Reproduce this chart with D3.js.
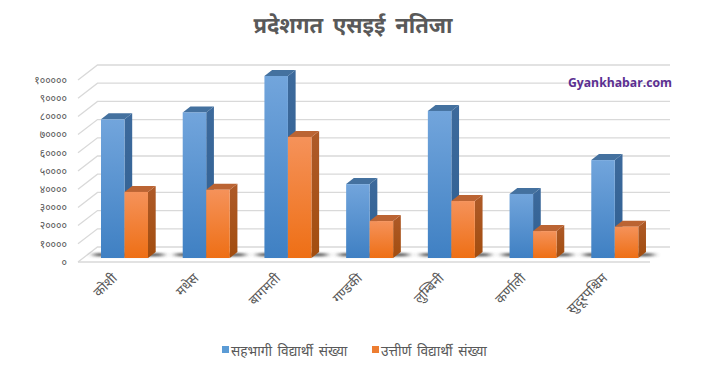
<!DOCTYPE html>
<html>
<head>
<meta charset="utf-8">
<script src="https://cdn.jsdelivr.net/npm/d3@7"></script>
<style>
  html, body { margin: 0; padding: 0; background: #fff; }
  text { font-family: "Noto Sans Devanagari", "Noto Sans", sans-serif; }
</style>
</head>
<body>
<div id="chart"></div>
<script>
// Data
const provinces = ["कोशी", "मधेस", "बागमती", "गण्डकी", "लुम्बिनी", "कर्णाली", "सुदूरपश्चिम"];
const seriesNames = ["सहभागी विद्यार्थी संख्या", "उत्तीर्ण विद्यार्थी संख्या"];
const participants = [76200, 80000, 100000, 40600, 80800, 35200, 53800];
const passed = [36300, 37500, 66500, 20300, 31300, 14800, 17200];
const yTicks = [0, 10000, 20000, 30000, 40000, 50000, 60000, 70000, 80000, 90000, 100000];

const width = 706;
const height = 369;

// 3D look: how far the back wall sits from the front of the floor
const wallDx = 19.5, wallDy = -15;
// bars stand a little way in from the front edge of the floor
const barDy = -4, barDepthX = 7.7, barDepthY = -6;

const svg = d3.select("#chart").append("svg")
    .attr("width", width)
    .attr("height", height)
    .style("display", "block");

const defs = svg.append("defs");

function gradient(id, top, bottom) {
    const g = defs.append("linearGradient").attr("id", id)
        .attr("x1", 0).attr("x2", 0).attr("y1", 0).attr("y2", 1);
    g.append("stop").attr("offset", "0%").attr("stop-color", top);
    g.append("stop").attr("offset", "100%").attr("stop-color", bottom);
}
gradient("front0", "#72a5dc", "#3f80c3");
gradient("front1", "#f5925a", "#ee6f15");
gradient("side0", "#3d6a9c", "#2f5f92");
gradient("side1", "#ae5a28", "#a24d0f");

defs.append("filter").attr("id", "blur")
    .attr("x", "-30%").attr("width", "160%")
    .attr("y", "-200%").attr("height", "500%")
  .append("feGaussianBlur").attr("stdDeviation", "3.5 1");

const colors = [
    { front: "url(#front0)", side: "url(#side0)", top: "#44719f", legend: "#5b9bd5" },
    { front: "url(#front1)", side: "url(#side1)", top: "#bb6433", legend: "#ed7d31" }
];

const x0 = d3.scaleBand().domain(provinces).range([78, 650]);
const x1 = d3.scaleBand().domain([0, 1]).range([0, 47]);
const y = d3.scaleLinear().domain([0, 100000]).range([262, 80]);
const barOffset = 23;

// Title
svg.append("text")
    .attr("x", 353)
    .attr("y", 33)
    .attr("text-anchor", "middle")
    .style("font-size", "22px")
    .style("font-weight", "bold")
    .style("word-spacing", "4px")
    .style("fill", "#595959")
    .text("प्रदेशगत एसइई नतिजा");

// Back wall gridlines and their returns on the side wall
const grid = svg.append("g").attr("fill", "none").attr("stroke", "#d9d9d9").attr("stroke-width", 1.3);
yTicks.forEach(t => {
    const yy = y(t) + wallDy;
    grid.append("path").attr("d", d3.line()([
        [78, y(t)],
        [78 + wallDx, yy],
        [670, yy]
    ]));
});

// Floor front edge
svg.append("path")
    .attr("d", d3.line()([[78, y(0)], [650, y(0)]]))
    .attr("fill", "none")
    .attr("stroke", "#d9d9d9")
    .attr("stroke-width", 1.3);

// Y axis, Devanagari digits
const devanagari = "०१२३४५६७८९";
const yAxis = d3.axisLeft(y)
    .tickValues(yTicks)
    .tickSize(0)
    .tickPadding(0)
    .tickFormat(d => String(d).replace(/\d/g, c => devanagari[+c]));

svg.append("g")
    .attr("transform", "translate(67,0)")
    .call(yAxis)
    .call(g => g.select(".domain").remove())
    .selectAll("text")
    .style("font-family", null)
    .style("font-size", "10.5px")
    .style("fill", "#595959");

// Floor shadows behind each pair of bars
const groups = svg.selectAll(".province")
    .data(provinces)
    .enter().append("g")
    .attr("class", "province")
    .attr("transform", d => `translate(${x0(d) + barOffset},0)`);

groups.append("rect")
    .attr("x", -7)
    .attr("width", x1.bandwidth() * 2 + 22)
    .attr("y", y(0) + barDy - 5)
    .attr("height", 3.5)
    .attr("fill", "#444")
    .attr("opacity", 0.8)
    .attr("filter", "url(#blur)");

// Bars: side and top faces first, then front face
const values = [participants, passed];
[0, 1].forEach(s => {
    const bar = groups.append("g").attr("class", "bar s" + s);
    const left = x1(s), right = x1(s) + x1.bandwidth();
    const base = y(0) + barDy;
    const top = (d, i) => y(values[s][i]) + barDy;

    bar.append("path")
        .attr("fill", colors[s].side)
        .attr("d", (d, i) => d3.line()([
            [right, base],
            [right + barDepthX, base + barDepthY],
            [right + barDepthX, top(d, i) + barDepthY],
            [right, top(d, i)]
        ]) + "Z");

    bar.append("path")
        .attr("fill", colors[s].top)
        .attr("d", (d, i) => d3.line()([
            [left, top(d, i)],
            [left + barDepthX, top(d, i) + barDepthY],
            [right + barDepthX, top(d, i) + barDepthY],
            [right, top(d, i)]
        ]) + "Z");

    bar.append("rect")
        .attr("x", left)
        .attr("width", x1.bandwidth())
        .attr("y", (d, i) => top(d, i))
        .attr("height", (d, i) => base - top(d, i))
        .attr("fill", colors[s].front);
});

// Category labels
svg.selectAll(".cat")
    .data(provinces)
    .enter().append("text")
    .attr("class", "cat")
    .attr("text-anchor", "end")
    .attr("transform", d => `translate(${x0(d) + x0.bandwidth() / 2 - 1},279) rotate(-45)`)
    .style("font-size", "13.5px")
    .style("fill", "#595959")
    .text(d => d);

// Legend
const legendX = [222, 372];
const legend = svg.selectAll(".legend")
    .data(seriesNames)
    .enter().append("g")
    .attr("class", "legend")
    .attr("transform", (d, i) => `translate(${legendX[i]},346)`);

legend.append("rect")
    .attr("width", 7)
    .attr("height", 7)
    .attr("fill", (d, i) => colors[i].legend);

legend.append("text")
    .attr("x", 9)
    .attr("y", 10)
    .style("font-size", "13.7px")
    .style("word-spacing", "2px")
    .style("fill", "#595959")
    .text(d => d);

// Watermark
svg.append("text")
    .attr("x", 568)
    .attr("y", 87)
    .style("font-family", "'Open Sans', sans-serif")
    .style("font-size", "12.2px")
    .style("font-weight", "bold")
    .style("fill", "#5b2f91")
    .text("Gyankhabar.com");
</script>
</body>
</html>
